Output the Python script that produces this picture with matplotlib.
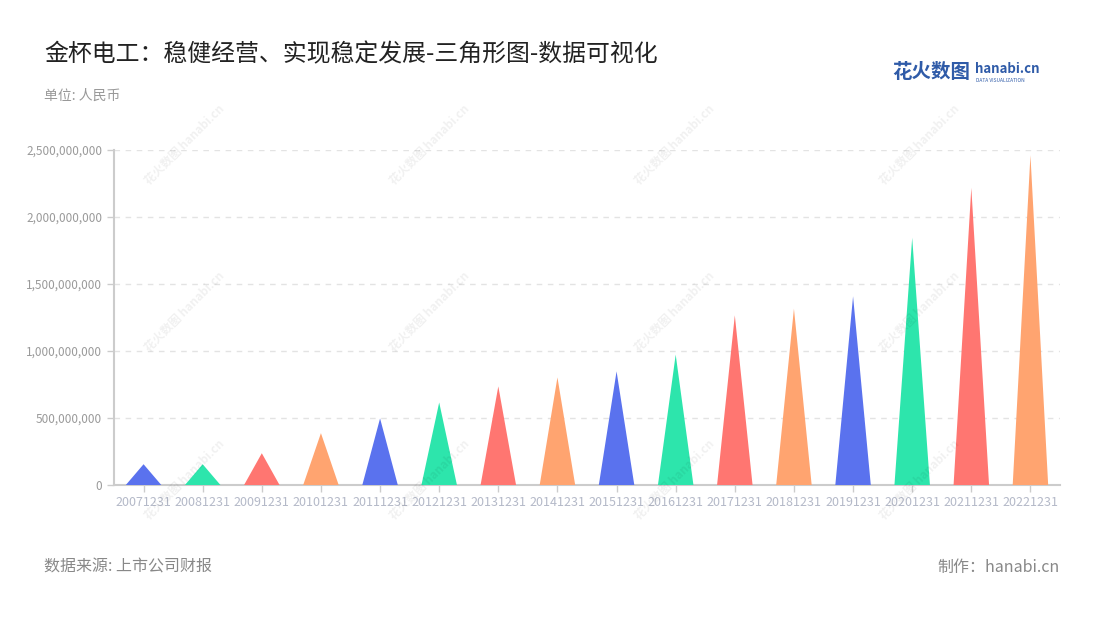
import matplotlib
matplotlib.use("Agg")
import matplotlib.pyplot as plt
from matplotlib.ticker import FuncFormatter

plt.rcParams['font.family'] = ['Noto Sans CJK SC', 'DejaVu Sans']

# data (RMB)
periods = ["20071231", "20081231", "20091231", "20101231", "20111231", "20121231",
           "20131231", "20141231", "20151231", "20161231", "20171231", "20181231",
           "20191231", "20201231", "20211231", "20221231"]
values = [155e6, 155e6, 237e6, 387e6, 497e6, 616e6, 736e6, 803e6,
          848e6, 973e6, 1266e6, 1316e6, 1408e6, 1845e6, 2218e6, 2461e6]
yticks = [0, 500e6, 1000e6, 1500e6, 2000e6, 2500e6]

palette = ["#5A72EE", "#2DE5AC", "#FF7671", "#FFA470"]

fig = plt.figure(figsize=(11, 6.2), dpi=100)
ax = fig.add_axes([114 / 1100, (620 - 485) / 620, (1060 - 114) / 1100, (485 - 150) / 620])

# triangles
width = 0.6
for i, v in enumerate(values):
    ax.fill([i - width / 2, i, i + width / 2], [0, v, 0],
            color=palette[i % len(palette)], linewidth=0, zorder=3)

ax.set_xlim(-0.5, len(periods) - 0.5)
ax.set_ylim(0, 2500e6)
ax.set_xticks(range(len(periods)))
ax.set_xticklabels(periods, fontsize=9, color="#B4B9C8")
ax.set_yticks(yticks)
ax.yaxis.set_major_formatter(FuncFormatter(lambda v, p: f"{int(v):,}"))
ax.tick_params(axis="y", labelsize=8.5, labelcolor="#9A9A9A", color="#CCCCCC", length=5, width=1)
ax.tick_params(axis="x", color="#CCCCCC", length=5, width=1, pad=3)

ax.grid(axis="y", color="#E3E3E3", linestyle=(0, (4, 4)), linewidth=1, zorder=0)
for s in ["top", "right"]:
    ax.spines[s].set_visible(False)
for s in ["left", "bottom"]:
    ax.spines[s].set_color("#CCCCCC")
    ax.spines[s].set_linewidth(1.5)

# watermarks
for wx in [185, 430, 675, 920]:
    for wy in [145, 312, 480]:
        fig.text(wx / 1100, 1 - wy / 620, "花火数图 hanabi.cn", rotation=45,
                 ha="center", va="center", fontsize=8.5, fontweight="bold",
                 color="#000000", alpha=0.06, zorder=0)

# titles and footer
fig.text(44 / 1100, 1 - 55 / 620, "金杯电工：稳健经营、实现稳定发展-三角形图-数据可视化",
         fontsize=17.2, color="#222222", va="center", ha="left")
fig.text(44 / 1100, 1 - 96 / 620, "单位: 人民币", fontsize=10, color="#999999",
         va="center", ha="left")
fig.text(44 / 1100, 1 - 567 / 620, "数据来源: 上市公司财报", fontsize=11.5, color="#888888",
         va="center", ha="left")
fig.text(1060 / 1100, 1 - 567 / 620, "制作：hanabi.cn", fontsize=11.5, color="#888888",
         va="center", ha="right")

# logo
fig.text(892 / 1100, 1 - 72 / 620, "花火数图", fontsize=14, fontweight="bold",
         color="#2F5BA8", va="center", ha="left")
fig.text(975 / 1100, 1 - 69 / 620, "hanabi.cn", fontsize=9.5, fontweight="bold",
         color="#2F5BA8", va="center", ha="left")
fig.text(976 / 1100, 1 - 80 / 620, "DATA VISUALIZATION", fontsize=3.5,
         color="#2F5BA8", va="center", ha="left")

fig.savefig("out.png", dpi=100)
